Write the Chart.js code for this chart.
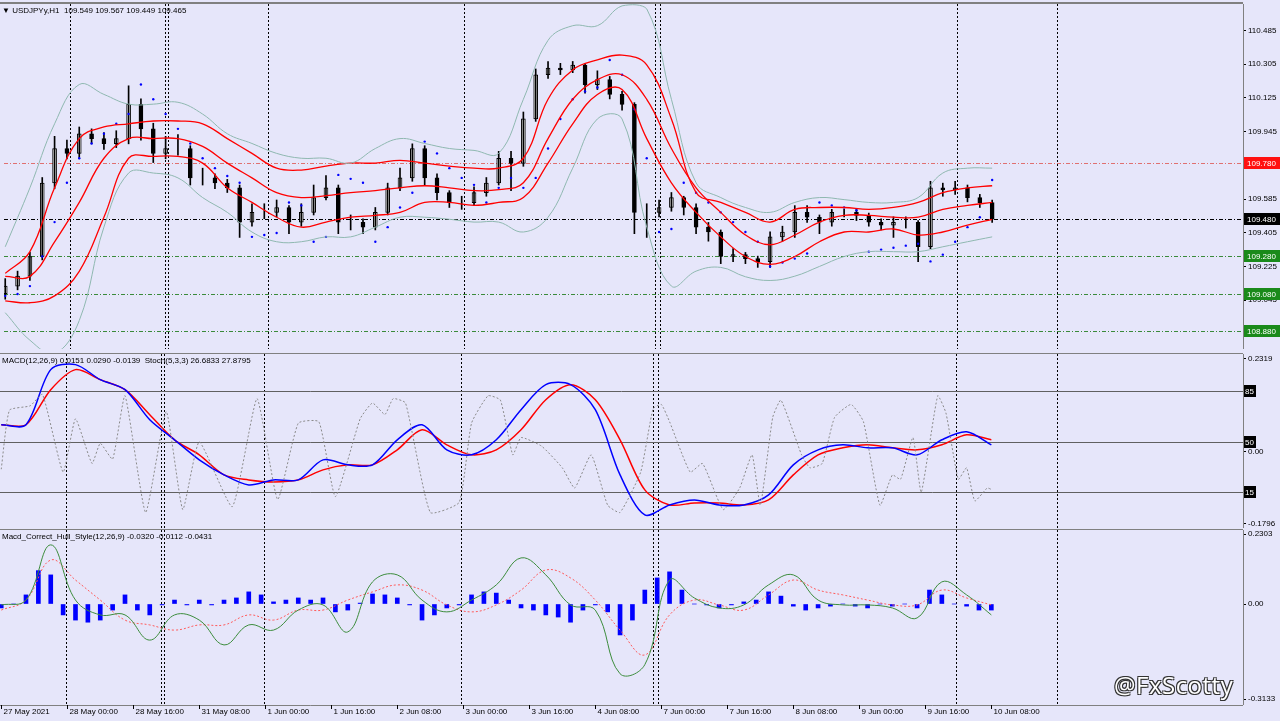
<!DOCTYPE html>
<html>
<head>
<meta charset="utf-8">
<script src="https://cdn.jsdelivr.net/npm/chart.js@4/dist/chart.umd.min.js"></script>
<style>
  body { margin:0; background:#e6e6fa; width:1280px; height:721px; overflow:hidden; position:relative; font-family:"Liberation Sans", sans-serif; }
  .pane { position:absolute; left:0; width:1280px; }
  #mark { position:absolute; left:1114px; top:668px; font:24px "Open Sans", sans-serif; color:#fff;
          text-shadow:-1px -1px 0 #333, 1px -1px 0 #333, -1px 1px 0 #333, 1px 1px 0 #333; letter-spacing:0.5px; }
</style>
</head>
<body>
<div class="pane" style="top:0;height:353px"><canvas id="price"></canvas></div>
<div class="pane" style="top:353px;height:176px"><canvas id="macd"></canvas></div>
<div class="pane" style="top:529px;height:192px"><canvas id="hull"></canvas></div>
<div id="mark">@FxScotty</div>
<script>
// H1 chart, candles sampled every 3 hours, indicator lines every 6 hours
const closes = [109.120,109.173,109.278,109.671,109.855,109.829,109.934,109.908,109.881,109.908,
110.091,109.960,109.829,109.855,109.855,109.698,109.698,109.671,109.645,109.461,
109.514,109.514,109.540,109.461,109.514,109.593,109.645,109.461,109.461,109.435,
109.514,109.645,109.698,109.855,109.698,109.619,109.566,109.566,109.619,109.671,
109.803,109.776,110.013,110.249,110.285,110.275,110.301,110.196,110.223,110.144,
110.091,109.514,109.514,109.540,109.593,109.540,109.435,109.409,109.278,109.288,
109.267,109.251,109.383,109.409,109.514,109.488,109.461,109.514,109.514,109.498,
109.461,109.446,109.461,109.461,109.330,109.645,109.634,109.645,109.593,109.566,109.477];
const firstOpen = 109.08;
const highs = [109.16,109.20,109.30,109.70,109.92,109.90,109.97,109.96,109.94,109.95,
110.19,110.12,109.99,109.92,109.93,109.87,109.75,109.72,109.69,109.66,
109.56,109.56,109.58,109.55,109.56,109.66,109.71,109.66,109.50,109.48,
109.54,109.67,109.75,109.88,109.87,109.72,109.63,109.60,109.65,109.70,
109.84,109.84,110.05,110.28,110.32,110.31,110.32,110.31,110.27,110.24,
110.16,110.10,109.56,109.58,109.62,109.60,109.56,109.46,109.42,109.32,
109.30,109.28,109.41,109.44,109.55,109.55,109.50,109.53,109.53,109.53,
109.51,109.48,109.49,109.49,109.47,109.68,109.67,109.68,109.66,109.61,109.58];
const lows = [109.05,109.10,109.15,109.26,109.64,109.80,109.80,109.88,109.85,109.86,
109.88,109.90,109.78,109.80,109.82,109.66,109.66,109.64,109.62,109.38,
109.44,109.48,109.49,109.40,109.44,109.50,109.58,109.40,109.42,109.40,
109.42,109.50,109.63,109.68,109.66,109.58,109.54,109.53,109.55,109.60,
109.66,109.63,109.76,110.00,110.23,110.25,110.26,110.15,110.17,110.12,
110.06,109.40,109.38,109.49,109.52,109.50,109.40,109.36,109.24,109.25,
109.24,109.22,109.22,109.36,109.38,109.46,109.40,109.44,109.49,109.47,
109.44,109.42,109.38,109.43,109.25,109.32,109.60,109.61,109.57,109.54,109.46];
const sar = [109.068,109.078,109.120,109.278,109.462,109.672,109.803,109.882,109.934,109.987,
110.039,110.197,110.118,110.039,109.960,109.882,109.803,109.750,109.708,109.672,
109.383,109.393,109.404,109.567,109.551,109.357,109.383,109.714,109.693,109.672,
109.357,109.435,109.540,109.619,109.892,109.829,109.750,109.698,109.661,109.567,
109.645,109.698,109.645,109.698,109.855,110.013,110.118,110.160,110.181,110.328,
110.249,110.065,109.803,109.409,109.425,109.672,109.619,109.567,109.514,109.462,
109.409,109.357,109.225,109.246,109.267,109.294,109.567,109.551,109.540,109.525,
109.304,109.315,109.325,109.336,109.346,109.252,109.288,109.357,109.435,109.488,109.687];

const bbUpper = [109.330,109.645,109.987,110.197,110.144,110.092,110.092,110.102,110.039,109.934,
109.882,109.829,109.803,109.803,109.777,109.855,109.908,109.882,109.855,109.845,
109.829,110.118,110.433,110.511,110.511,110.617,110.601,110.118,109.672,109.593,
109.540,109.514,109.567,109.593,109.582,109.567,109.567,109.593,109.724,109.750,109.750];
const bbLower = [108.978,108.831,108.760,108.936,109.435,109.724,109.724,109.698,109.593,109.514,
109.409,109.357,109.357,109.383,109.383,109.435,109.488,109.488,109.477,109.462,
109.462,109.409,109.488,109.750,110.013,110.013,109.435,109.120,109.200,109.220,
109.170,109.150,109.173,109.225,109.278,109.304,109.304,109.304,109.330,109.357,109.383];
const envUpper = [109.188,109.304,109.645,109.908,109.970,109.987,110.002,110.002,109.987,109.908,
109.829,109.750,109.740,109.761,109.777,109.777,109.792,109.777,109.761,109.750,
109.750,109.803,110.118,110.275,110.328,110.354,110.302,110.013,109.619,109.567,
109.514,109.462,109.530,109.540,109.540,109.530,109.540,109.567,109.619,109.645,109.656];
const envMid = [109.172,109.172,109.356,109.567,109.803,109.908,109.908,109.908,109.866,109.777,
109.698,109.619,109.593,109.603,109.619,109.630,109.645,109.656,109.645,109.630,
109.635,109.672,109.908,110.118,110.223,110.249,110.118,109.855,109.645,109.514,
109.393,109.341,109.393,109.462,109.498,109.498,109.488,109.488,109.530,109.551,109.567];
const envLower = [109.041,109.031,109.068,109.199,109.488,109.803,109.813,109.813,109.777,109.645,
109.567,109.488,109.435,109.462,109.488,109.498,109.514,109.567,109.567,109.551,
109.567,109.593,109.777,109.987,110.144,110.170,109.908,109.672,109.514,109.383,
109.278,109.236,109.278,109.357,109.409,109.409,109.425,109.393,109.409,109.446,109.477];

const macdMain = [0.0675,0.0675,0.205,0.2175,0.18,0.155,0.08,0.03,-0.02,-0.0575,
-0.0825,-0.07,-0.07,-0.02,-0.0325,-0.0325,0.03,0.0675,0.005,-0.0075,
0.03,0.105,0.1675,0.1675,0.105,-0.0575,-0.1575,-0.1325,-0.12,-0.1325,
-0.1325,-0.1075,-0.0325,0.005,0.0175,0.01,0.01,-0.0075,0.03,0.05,0.0175];
const macdSignal = [0.0675,0.0675,0.155,0.205,0.18,0.155,0.0925,0.03,-0.0075,-0.0575,
-0.07,-0.075,-0.07,-0.045,-0.0325,-0.0325,0.005,0.055,0.0175,-0.0075,
0.005,0.055,0.13,0.1675,0.13,0.03,-0.095,-0.1325,-0.1275,-0.1275,
-0.1325,-0.12,-0.0575,-0.0075,0.01,0.0175,0.01,0.005,0.0175,0.0425,0.03];
const stochHours = [0,2,7,10,15,18,22,24,27,30,35,40,44,48,56,62,67,72,77,81,87,90,93,95,98,104,111,114,118,121,124,126,131,136,139,143,147,150,155,158,160,162,167,170,175,179,182,184,187,189,194,196,199,202,206,209,213,216,218,221,223,227,229,232,234,236,239,240];
const stochValues = [31,72,75,83,29,66,35,49,38,82,1,71,3,50,5,80,10,63,64,12,66,77,69,80,77,1,8,63,82,79,41,53,47,32,18,41,6,1,29,73,76,64,29,35,3,18,41,6,67,79,41,32,35,67,76,64,6,27,24,53,15,82,70,24,32,9,18,17];

const hullHist = [-0.013,0,0.03,0.11,0.096,-0.036,-0.053,-0.06,-0.053,-0.02,
0.03,-0.02,-0.036,-0.003,0.013,-0.003,0.013,-0.003,0.013,0.02,
0.04,0.03,0.007,0.013,0.02,0.013,0.02,-0.026,-0.02,0.003,
0.033,0.03,0.02,-0.003,-0.053,-0.036,-0.013,-0.003,0.03,0.04,
0.036,0.013,-0.013,-0.02,-0.036,-0.043,-0.06,-0.02,-0.003,-0.026,
-0.102,-0.053,0.046,0.086,0.106,0.046,0,-0.003,-0.013,-0.003,
0.007,0.013,0.04,0.026,-0.007,-0.02,-0.013,-0.007,0,-0.007,
-0.013,0,-0.007,0,-0.013,0.046,0.03,0,-0.007,-0.02,-0.02];
const hullMacd = [-0.003,0.013,0.195,0.013,-0.036,-0.036,-0.119,-0.036,-0.053,-0.135,
-0.069,-0.086,-0.02,-0.003,-0.092,0.073,0.096,0.013,-0.026,0.013,
0.063,0.152,0.096,-0.003,-0.02,-0.23,-0.2,0.079,0.02,-0.013,
-0.003,0.063,0.096,0.013,-0.003,-0.003,-0.013,-0.046,0.073,0.03,-0.036];
const hullSignal = [-0.02,0.013,0.145,0.079,0.013,-0.053,-0.069,-0.086,-0.069,-0.069,
-0.036,-0.053,-0.02,-0.02,0.013,0.04,0.063,0.046,-0.003,-0.026,
-0.003,0.046,0.112,0.086,0.013,-0.086,-0.168,-0.036,0.013,-0.003,
-0.02,0.03,0.079,0.046,0.03,0.013,-0.003,-0.003,0.046,0.02,-0.003];

const priceTicks = [110.485,110.305,110.125,109.945,109.585,109.405,109.225,109.045];
const timeLabels = ['27 May 2021','28 May 00:00','28 May 16:00','31 May 08:00','1 Jun 00:00','1 Jun 16:00','2 Jun 08:00','3 Jun 00:00','3 Jun 16:00','4 Jun 08:00','7 Jun 00:00','7 Jun 16:00','8 Jun 08:00','9 Jun 00:00','9 Jun 16:00','10 Jun 08:00'];
const separatorHours = [15.8, 38.8, 39.5, 63.8, 111.5, 158, 159.3, 231.5, 255.8];

const FONT = '8px "Liberation Sans", sans-serif';
const at3 = arr => arr.map((v, i) => ({ x: i * 3, y: v }));
const at6 = arr => arr.map((v, i) => ({ x: i * 6, y: v }));
const opens = closes.map((c, i) => i === 0 ? firstOpen : closes[i - 1]);

const deco = {
  id: 'deco',
  beforeDatasetsDraw(chart, args, o) {
    const { ctx, chartArea: ca, scales } = chart;
    ctx.save();
    ctx.lineWidth = 1;
    ctx.strokeStyle = '#000';
    ctx.setLineDash([2, 2]);
    separatorHours.forEach(h => {
      const x = Math.round(scales.x.getPixelForValue(h)) + 0.5;
      ctx.beginPath(); ctx.moveTo(x, ca.top); ctx.lineTo(x, ca.bottom); ctx.stroke();
    });
    (o.hlines || []).forEach(l => {
      const y = Math.round(scales[l.axis || 'y'].getPixelForValue(l.v)) + 0.5;
      ctx.strokeStyle = l.color; ctx.setLineDash(l.dash);
      ctx.beginPath(); ctx.moveTo(ca.left, y); ctx.lineTo(ca.right, y); ctx.stroke();
    });
    ctx.restore();
  },
  afterDraw(chart, args, o) {
    const { ctx, chartArea: ca, scales } = chart;
    ctx.save();
    ctx.strokeStyle = '#808080';
    ctx.lineWidth = 2;
    ctx.beginPath(); ctx.moveTo(0, ca.top - 1); ctx.lineTo(ca.right, ca.top - 1); ctx.stroke();
    ctx.lineWidth = 1;
    ctx.beginPath(); ctx.moveTo(ca.right + 0.5, ca.top); ctx.lineTo(ca.right + 0.5, ca.bottom); ctx.stroke();
    if (o.bottomLine) { ctx.beginPath(); ctx.moveTo(0, ca.bottom + 0.5); ctx.lineTo(ca.right, ca.bottom + 0.5); ctx.stroke(); }
    ctx.font = FONT;
    ctx.textBaseline = 'middle';
    (o.hlines || []).filter(l => l.label).forEach(l => {
      const y = Math.round(scales[l.axis || 'y'].getPixelForValue(l.v));
      ctx.fillStyle = l.bg;
      ctx.fillRect(ca.right + 1, y - 6, l.w || 36, 12);
      ctx.fillStyle = '#fff';
      ctx.fillText(l.label, ca.right + (l.w ? 2 : 4), y + 0.5);
    });
    if (o.header) {
      ctx.fillStyle = '#000';
      ctx.fillText(o.header, 2, ca.top + 7);
    }
    if (o.times) {
      ctx.fillStyle = '#000';
      ctx.strokeStyle = '#000';
      timeLabels.forEach((t, i) => {
        const x = Math.round(scales.x.getPixelForValue(i * 16)) + 0.5;
        ctx.beginPath(); ctx.moveTo(x, ca.bottom); ctx.lineTo(x, ca.bottom + 4); ctx.stroke();
        ctx.fillText(t, x + 2, ca.bottom + 7);
      });
    }
    ctx.restore();
  }
};
Chart.register(deco);

function xScale() {
  return { type: 'linear', min: -0.3, max: 301, offset: false, display: false };
}
function yScale(min, max, ticks, fmt) {
  return {
    position: 'right', min, max,
    afterFit: a => { a.width = 37; a.paddingTop = 0; a.paddingBottom = 0; },
    afterBuildTicks: a => { a.ticks = ticks.map(v => ({ value: v })); },
    border: { display: false },
    grid: { drawOnChartArea: false, tickLength: 3, color: '#000' },
    ticks: { font: { family: 'Liberation Sans', size: 8 }, color: '#000', padding: 2, callback: fmt }
  };
}
const base = {
  responsive: true, maintainAspectRatio: false, animation: false,
  plugins: { legend: { display: false }, tooltip: { enabled: false } },
  elements: { point: { radius: 0 }, line: { tension: 0.4 } }
};
function line(data, color, width, dash, axis, tension) {
  return { type: 'line', data, borderColor: color, borderWidth: width, borderDash: dash || [], yAxisID: axis || 'y',
           pointRadius: 0, fill: false, tension: tension === undefined ? 0.4 : tension };
}

// price pane
new Chart(document.getElementById('price'), {
  type: 'bar',
  data: {
    datasets: [
      line(at6(bbUpper), '#8fb8b0', 1),
      line(at6(bbLower), '#8fb8b0', 1),
      line(at6(envUpper), '#ff0000', 1.3),
      line(at6(envMid), '#ff0000', 1.3),
      line(at6(envLower), '#ff0000', 1.3),
      { type: 'line', data: at3(sar), showLine: false, pointRadius: 1.2, pointBackgroundColor: '#0000ff', pointBorderWidth: 0 },
      { type: 'bar', data: closes.map((c, i) => ({ x: i * 3, y: [lows[i], highs[i]] })), backgroundColor: '#000', barThickness: 1, grouped: false },
      { type: 'bar', data: closes.map((c, i) => ({ x: i * 3, y: [opens[i], c] })), grouped: false, barThickness: 4,
        backgroundColor: closes.map((c, i) => c >= opens[i] ? '#ffffff' : '#000000'), borderColor: '#000', borderWidth: 1, borderSkipped: false }
    ]
  },
  options: {
    ...base,
    layout: { padding: { top: 3, bottom: 1 } },
    scales: { x: xScale(), y: yScale(108.784, 110.627, priceTicks, v => v.toFixed(3)) },
    plugins: { ...base.plugins, deco: {
      header: '\u25BC USDJPYy,H1  109.549 109.567 109.449 109.465',
      hlines: [
        { v: 109.78, color: '#e07070', dash: [4, 2, 1, 2], label: '109.780', bg: '#ff1010' },
        { v: 109.48, color: '#000', dash: [4, 2, 1, 2], label: '109.480', bg: '#000' },
        { v: 109.28, color: '#3a8a3a', dash: [4, 2, 1, 2], label: '109.280', bg: '#1a8a1a' },
        { v: 109.08, color: '#3a8a3a', dash: [4, 2, 1, 2], label: '109.080', bg: '#1a8a1a' },
        { v: 108.88, color: '#3a8a3a', dash: [4, 2, 1, 2], label: '108.880', bg: '#1a8a1a' }
      ] } }
  }
});

// MACD + stochastic pane
new Chart(document.getElementById('macd'), {
  type: 'line',
  data: {
    datasets: [
      line(stochHours.map((h, i) => ({ x: h, y: stochValues[i] })), '#8a8a8a', 1, [2, 2], 'ys', 0.15),
      line(at6(macdMain), '#0000ff', 1.5, [], 'y', 0.3),
      line(at6(macdSignal), '#ff0000', 1.5, [], 'y', 0.3)
    ]
  },
  options: {
    ...base,
    layout: { padding: { top: 1, bottom: 1 } },
    scales: {
      x: xScale(),
      y: yScale(-0.19, 0.244, [0.2319, 0, -0.1796], v => v === 0 ? '0.00' : String(v)),
      ys: { display: false, min: -9.8, max: 111 }
    },
    plugins: { ...base.plugins, deco: {
      header: 'MACD(12,26,9) 0.0151 0.0290 -0.0139  Stoch(5,3,3) 26.6833 27.8795',
      hlines: [
        { v: 85, axis: 'ys', color: '#606060', dash: [], label: '85', bg: '#000', w: 12 },
        { v: 50, axis: 'ys', color: '#606060', dash: [], label: '50', bg: '#000', w: 12 },
        { v: 15, axis: 'ys', color: '#606060', dash: [], label: '15', bg: '#000', w: 12 }
      ] } }
  }
});

// Hull style MACD pane
new Chart(document.getElementById('hull'), {
  type: 'bar',
  data: {
    datasets: [
      line(at6(hullMacd), '#3c8c3c', 1),
      line(at6(hullSignal), '#ff5a5a', 1, [2, 2]),
      { type: 'bar', data: at3(hullHist), backgroundColor: '#0000ff', barThickness: 4, grouped: false }
    ]
  },
  options: {
    ...base,
    layout: { padding: { top: 1, bottom: 16 } },
    scales: { x: xScale(), y: yScale(-0.333, 0.244, [0.2303, 0, -0.3133], v => v === 0 ? '0.00' : String(v)) },
    plugins: { ...base.plugins, deco: {
      header: 'Macd_Correct_Hull_Style(12,26,9) -0.0320 -0.0112 -0.0431',
      times: true, bottomLine: true } }
  }
});
</script>
</body>
</html>
